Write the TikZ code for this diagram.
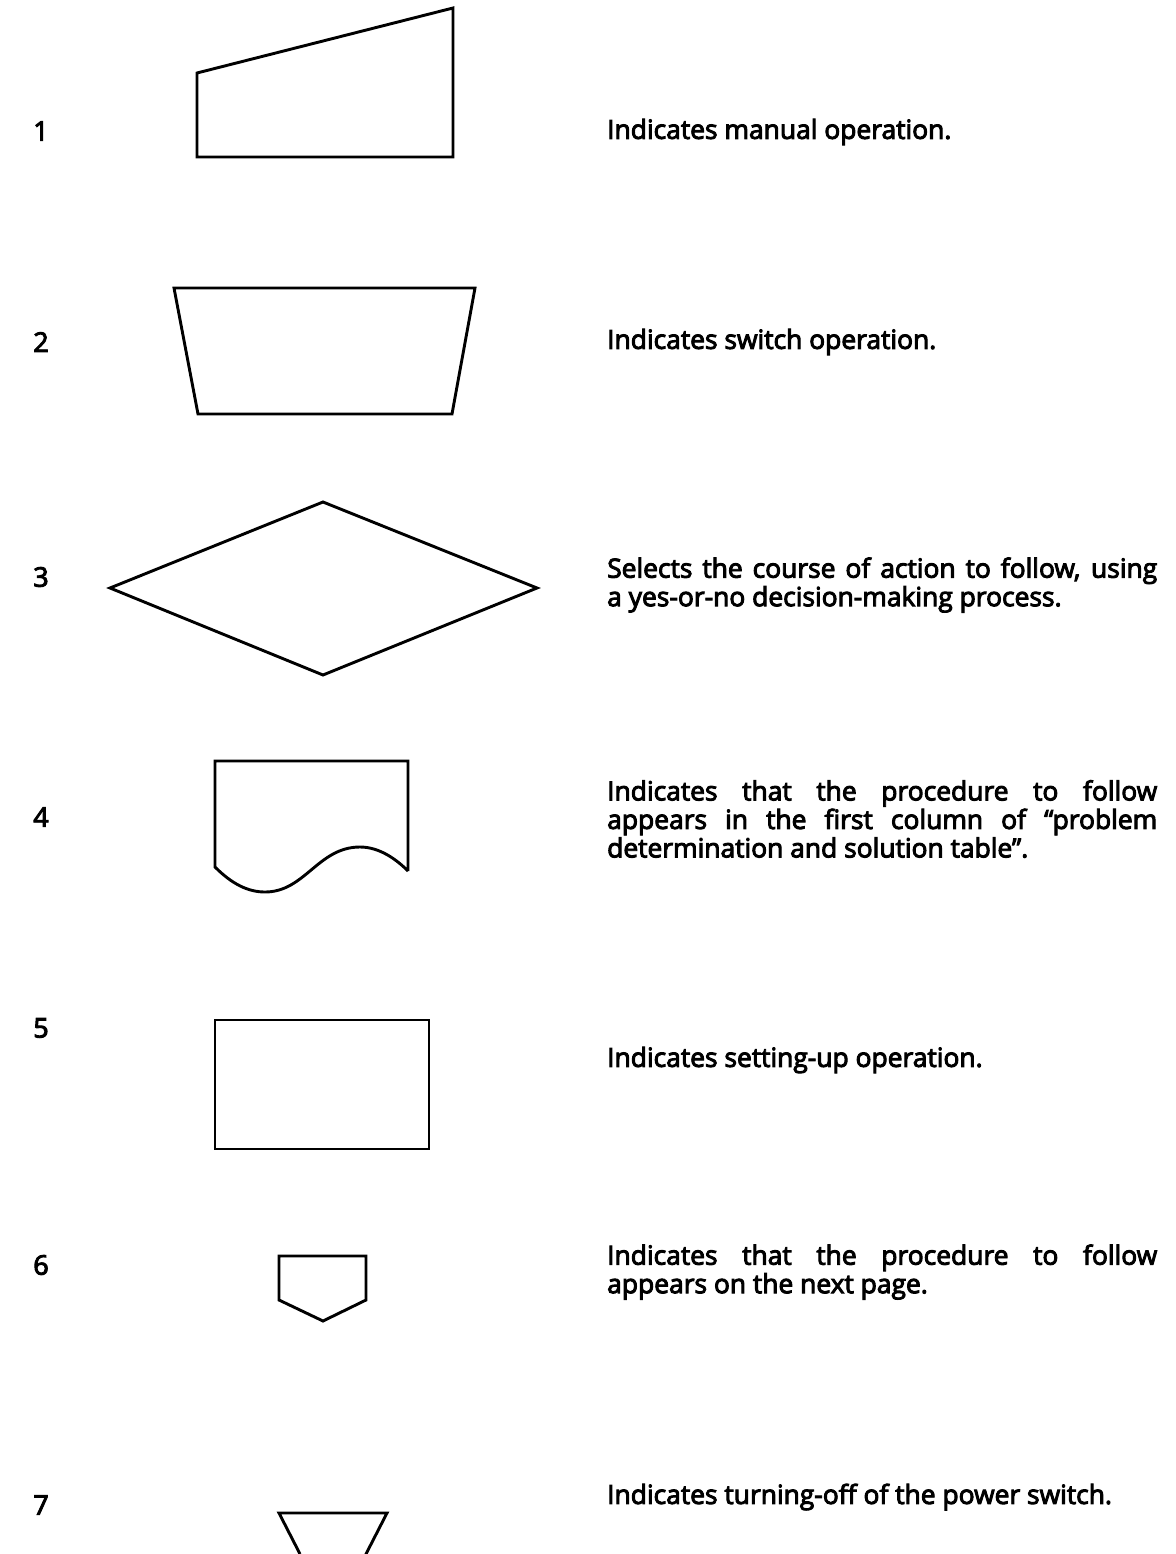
\documentclass[tikz,border=0pt]{standalone}
\usepackage{fontspec}
\setmainfont{Open Sans}[FakeBold=3.6]
\hyphenpenalty=10000
\exhyphenpenalty=10000
\begin{document}
\begin{tikzpicture}[x=1pt,y=-1pt,
  shp/.style={draw=black,line width=2.9pt,line join=miter},
  num/.style={font=\fontsize{27}{29}\selectfont,anchor=center,inner sep=0pt},
  desc/.style={font=\fontsize{26.4}{28.5}\selectfont,anchor=west,inner sep=0pt,align=justify,text width=550pt}]
\useasboundingbox (0,0) rectangle (1175,1554);
\clip (0,0) rectangle (1175,1554);
\fill[white] (0,0) rectangle (1175,1554);
% numbers
\node[num] (n1) at (41,131) {1};
\node[num] (n2) at (41,342) {2};
\node[num] (n3) at (41,577) {3};
\node[num] (n4) at (41,817) {4};
\node[num] (n5) at (41,1028) {5};
\node[num] (n6) at (41,1265) {6};
\node[num] (n7) at (41,1505) {7};
% shapes
\draw[shp] (197,73) -- (453,8) -- (453,157) -- (197,157) -- cycle;
\draw[shp] (174,288) -- (475,288) -- (452,414) -- (198,414) -- cycle;
\draw[shp] (110,588) -- (323,502) -- (537,588) -- (323,675) -- cycle;
\draw[shp] (408,871) -- (408,761) -- (215,761) -- (215,867)
  .. controls (232,884) and (248,892) .. (265,892)
  .. controls (305,892) and (318,847) .. (360,847)
  .. controls (380,847) and (397,860) .. (408,871);
\draw[shp] (215,1020) rectangle (429,1149);
\draw[shp] (279,1300) -- (279,1256) -- (366,1256) -- (366,1300) -- (323,1321) -- cycle;
\draw[shp] (300,1554) -- (279,1513) -- (387,1513) -- (366,1554) -- (380,1580);
% descriptions
\node[desc] (d1) at (607,132) {Indicates manual operation.};
\node[desc] (d2) at (607,342) {Indicates switch operation.};
\node[desc] (d3) at (607,585) {Selects the course of action to follow, using\linebreak a yes-or-no decision-making process.};
\node[desc] (d4) at (607,819) {Indicates that the procedure to follow\linebreak appears in the first column of ``problem\linebreak determination and solution table''.};
\node[desc] (d5) at (607,1060) {Indicates setting-up operation.};
\node[desc] (d6) at (607,1272) {Indicates that the procedure to follow\linebreak appears on the next page.};
\node[desc] (d7) at (607,1497) {Indicates turning-off of the power switch.};
\end{tikzpicture}
\end{document}
